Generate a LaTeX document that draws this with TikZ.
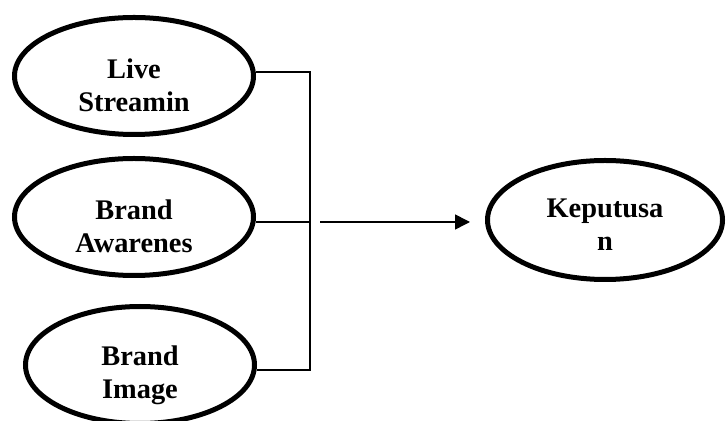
\documentclass[tikz,border=0pt]{standalone}
\usepackage{fontspec}
\setmainfont{Liberation Serif}
\usepackage{tikz}
\usetikzlibrary{shapes.geometric}
\usetikzlibrary{arrows.meta}

\tikzset{
  factor/.style={ellipse, draw, line width=2.5pt, minimum width=119.5pt, minimum height=58.5pt},
  factortext/.style={align=center, font=\bfseries\fontsize{14.2}{16.5}\selectfont, text depth=0pt, inner sep=0pt},
  link/.style={line width=0.8pt}
}

\begin{document}
\begin{tikzpicture}[x=0.5pt, y=-0.5pt]
\useasboundingbox (0,0) rectangle (726,421);

\node[factor] (live) at (134,76) {};
\node[factor] (awareness) at (134,217) {};
\node[factor, minimum width=114.5pt] (image) at (140,365) {};
\node[factor, minimum width=117.5pt, minimum height=59.5pt] (keputusan) at (605,220) {};

\node[factortext, yshift=-4.5pt] (liveText) at (live.center) {Live\\Streamin};
\node[factortext, yshift=-4.5pt] (awarenessText) at (awareness.center) {Brand\\Awarenes};
\node[factortext, yshift=-3.5pt] (imageText) at (image.center) {Brand\\Image};
\node[factortext, yshift=-2.5pt] (keputusanText) at (keputusan.center) {Keputusa\\n};

\coordinate (busTop) at (310,72);
\coordinate (busMid) at (310,222);
\coordinate (busBottom) at (310,370);
\coordinate (arrowStart) at (320,222);

\draw[link] (live.east |- busTop) -- (busTop) -- (busBottom) -- (image.east |- busBottom);
\draw[link] (awareness.east |- busMid) -- (busMid);
\draw[link, -{Triangle[length=7.5pt, width=7.5pt]}, shorten >=7.5pt] (arrowStart) -- (keputusan.west |- arrowStart);
\end{tikzpicture}
\end{document}
